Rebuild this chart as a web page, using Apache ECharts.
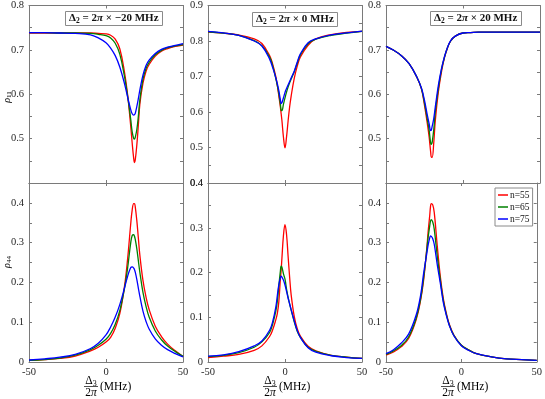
<!DOCTYPE html>
<html>
<head>
<meta charset="utf-8">
<script src="https://cdn.jsdelivr.net/npm/echarts@6/dist/echarts.min.js"></script>
<style>
html, body { margin: 0; padding: 0; background: #fff; }
#chart { width: 545px; height: 399px; }
</style>
</head>
<body>
<div id="chart"></div>
<script>
// series names (legend) and detuning in the panel titles
var names = ['n=55', 'n=65', 'n=75'];
var detunings = ['\u221220', '0', '20'];
var xTicks = [-50, 0, 50];

// left column: Delta2 = 2pi x -20 MHz
var xA = [-50,-40,-30,-20,-10,-5,0,3,6,9,12,14,16,17,18,18.5,19,20,21,22,24,26,28,32,36,40,45,50];
var rho11A_55 = [0.738,0.738,0.738,0.738,0.738,0.737,0.736,0.733,0.724,0.702,0.650,0.600,0.530,0.490,0.455,0.446,0.452,0.485,0.530,0.578,0.625,0.652,0.667,0.686,0.697,0.703,0.708,0.711];
var rho11A_65 = [0.739,0.739,0.738,0.738,0.737,0.735,0.732,0.727,0.715,0.690,0.640,0.597,0.545,0.515,0.500,0.499,0.503,0.520,0.550,0.588,0.634,0.658,0.672,0.689,0.699,0.705,0.709,0.712];
var rho11A_75 = [0.739,0.739,0.738,0.737,0.734,0.727,0.716,0.704,0.687,0.661,0.624,0.594,0.566,0.556,0.553,0.554,0.557,0.572,0.590,0.610,0.643,0.665,0.677,0.692,0.701,0.706,0.710,0.714];
var rho44A_55 = [0.004,0.006,0.009,0.015,0.028,0.037,0.050,0.062,0.085,0.122,0.190,0.258,0.345,0.382,0.398,0.398,0.390,0.356,0.312,0.268,0.205,0.163,0.132,0.090,0.064,0.045,0.028,0.014];
var rho44A_65 = [0.004,0.006,0.010,0.017,0.031,0.042,0.057,0.072,0.095,0.130,0.185,0.235,0.298,0.318,0.320,0.316,0.308,0.285,0.255,0.225,0.175,0.140,0.113,0.078,0.056,0.040,0.026,0.014];
var rho44A_75 = [0.005,0.008,0.012,0.019,0.034,0.047,0.068,0.088,0.113,0.145,0.186,0.215,0.237,0.239,0.236,0.232,0.226,0.208,0.186,0.165,0.128,0.102,0.083,0.058,0.042,0.031,0.021,0.013];

// middle column: Delta2 = 2pi x 0 MHz
var xB = [-50,-40,-30,-20,-15,-10,-8,-6,-5,-4,-3,-2.5,-2,-1,0,1,2,3,4,6,8,10,15,20,30,40,50];
var rho11B_55 = [0.825,0.822,0.817,0.806,0.793,0.759,0.735,0.700,0.675,0.645,0.614,0.595,0.576,0.529,0.499,0.530,0.574,0.614,0.645,0.695,0.730,0.755,0.788,0.806,0.818,0.824,0.827];
var rho11B_65 = [0.826,0.822,0.816,0.801,0.787,0.755,0.730,0.695,0.675,0.652,0.622,0.605,0.604,0.622,0.640,0.656,0.670,0.682,0.693,0.713,0.738,0.761,0.792,0.805,0.816,0.822,0.827];
var rho11B_75 = [0.827,0.823,0.816,0.800,0.786,0.749,0.725,0.697,0.680,0.660,0.634,0.624,0.626,0.640,0.655,0.666,0.676,0.686,0.696,0.715,0.741,0.764,0.795,0.806,0.817,0.823,0.828];
var rho44B_55 = [0.010,0.013,0.017,0.026,0.036,0.057,0.072,0.094,0.108,0.135,0.185,0.205,0.232,0.283,0.307,0.285,0.237,0.190,0.150,0.102,0.074,0.058,0.035,0.025,0.015,0.011,0.008];
var rho44B_65 = [0.012,0.015,0.021,0.033,0.045,0.066,0.085,0.113,0.135,0.170,0.203,0.214,0.212,0.197,0.185,0.163,0.145,0.130,0.116,0.090,0.068,0.055,0.033,0.024,0.015,0.011,0.008];
var rho44B_75 = [0.013,0.016,0.023,0.036,0.047,0.071,0.090,0.122,0.148,0.173,0.188,0.192,0.190,0.183,0.172,0.158,0.143,0.130,0.117,0.092,0.070,0.055,0.032,0.022,0.014,0.010,0.008];

// right column: Delta2 = 2pi x 20 MHz
var xC = [-50,-45,-40,-35,-30,-27,-25,-23,-22,-21,-20.5,-20,-19,-18,-16,-14,-12,-10,-8,-5,0,5,10,20,30,40,50];
var rho11C_55 = [0.708,0.699,0.687,0.669,0.639,0.612,0.575,0.530,0.504,0.470,0.458,0.458,0.490,0.540,0.605,0.650,0.683,0.705,0.720,0.731,0.738,0.739,0.740,0.740,0.740,0.740,0.740];
var rho11C_65 = [0.708,0.699,0.687,0.669,0.639,0.613,0.580,0.540,0.519,0.490,0.487,0.492,0.520,0.560,0.613,0.655,0.684,0.706,0.720,0.731,0.738,0.739,0.740,0.740,0.740,0.740,0.740];
var rho11C_75 = [0.708,0.699,0.687,0.669,0.639,0.614,0.586,0.550,0.534,0.518,0.520,0.528,0.545,0.571,0.620,0.657,0.685,0.706,0.721,0.731,0.738,0.739,0.740,0.740,0.740,0.740,0.740];
var rho44C_55 = [0.017,0.025,0.038,0.059,0.106,0.156,0.207,0.283,0.330,0.368,0.390,0.398,0.395,0.376,0.292,0.216,0.160,0.123,0.095,0.068,0.042,0.030,0.021,0.013,0.008,0.006,0.004];
var rho44C_65 = [0.019,0.028,0.041,0.063,0.110,0.160,0.213,0.280,0.315,0.342,0.354,0.358,0.352,0.334,0.266,0.207,0.155,0.120,0.093,0.067,0.042,0.030,0.021,0.013,0.008,0.006,0.004];
var rho44C_75 = [0.021,0.031,0.047,0.070,0.118,0.169,0.224,0.271,0.295,0.312,0.317,0.316,0.310,0.296,0.245,0.199,0.150,0.118,0.092,0.066,0.041,0.029,0.021,0.013,0.008,0.006,0.004];

var colors = ['#ff0000', '#008000', '#0000ff'];
var serif = 'Liberation Serif, DejaVu Serif, serif';
var axisColor = '#7a7a7a';

var cols = [29, 208, 386];
var colW = 154;
var rows = [{ top: 5, height: 178 }, { top: 183, height: 179 }];

// one entry per panel, row by row
var panels = [
  { x: xA, ys: [rho11A_55, rho11A_65, rho11A_75], min: 0.4, max: 0.8, hideMin: true },
  { x: xB, ys: [rho11B_55, rho11B_65, rho11B_75], min: 0.4, max: 0.9, hideMin: false },
  { x: xC, ys: [rho11C_55, rho11C_65, rho11C_75], min: 0.4, max: 0.8, hideMin: true },
  { x: xA, ys: [rho44A_55, rho44A_65, rho44A_75], min: 0, max: 0.45, hideMin: false },
  { x: xB, ys: [rho44B_55, rho44B_65, rho44B_75], min: 0, max: 0.4, hideMin: false },
  { x: xC, ys: [rho44C_55, rho44C_65, rho44C_75], min: 0, max: 0.45, hideMin: false }
];

function yLabel(v) {
  var t = Math.round(v * 100);
  if (t % 10 !== 0) return '';
  return t === 0 ? '0' : (t / 100).toFixed(1);
}

var grid = [], xAxis = [], yAxis = [], series = [];

panels.forEach(function (p, i) {
  var r = Math.floor(i / 3), c = i % 3;
  grid.push({ left: cols[c], top: rows[r].top, width: colW, height: rows[r].height });

  var xBase = {
    gridIndex: i, type: 'value', min: -50, max: 50, interval: 50,
    axisLine: { onZero: false, lineStyle: { color: axisColor, width: 1 } },
    axisTick: { inside: true, length: 3, lineStyle: { color: axisColor } },
    splitLine: { show: false }
  };
  xAxis.push(Object.assign({}, xBase, {
    position: 'bottom',
    axisLabel: { show: r === 1, margin: 5, color: '#262626', fontFamily: serif, fontSize: 10.5,
      formatter: function (v) { return xTicks.indexOf(v) >= 0 ? String(v) : ''; } }
  }));
  xAxis.push(Object.assign({}, xBase, { position: 'top', axisLabel: { show: false } }));

  var yBase = {
    gridIndex: i, type: 'value', min: p.min, max: p.max, interval: 0.05,
    axisLine: { onZero: false, lineStyle: { color: axisColor, width: 1 } },
    axisTick: { inside: true, length: 3, lineStyle: { color: axisColor } },
    splitLine: { show: false }
  };
  yAxis.push(Object.assign({}, yBase, {
    position: 'left',
    axisLabel: { margin: 5, color: '#262626', fontFamily: serif, fontSize: 10.5,
      showMinLabel: !p.hideMin, showMaxLabel: true, formatter: yLabel }
  }));
  yAxis.push(Object.assign({}, yBase, { position: 'right', axisLabel: { show: false } }));

  p.ys.forEach(function (ys, k) {
    series.push({
      name: names[k], type: 'line', xAxisIndex: 2 * i, yAxisIndex: 2 * i,
      data: p.x.map(function (x, j) { return [x, ys[j]]; }),
      symbol: 'none', smooth: 0.4, z: 3 + k,
      lineStyle: { color: colors[k], width: 1.3 },
      itemStyle: { color: colors[k] }
    });
  });
});

// boxed panel titles
var titleBoxes = [{ left: 65, top: 10 }, { left: 252, top: 11 }, { left: 430, top: 10 }];
var titleRich = {
  t: { fontFamily: serif, fontSize: 11, color: '#111' },
  i: { fontFamily: serif, fontSize: 11, fontStyle: 'italic', color: '#111' },
  s: { fontFamily: serif, fontSize: 7.5, color: '#111', verticalAlign: 'bottom', padding: [5, 0, 0, 0] }
};
var title = titleBoxes.map(function (b, k) {
  return {
    left: b.left, top: b.top, padding: [2, 4, 1, 4],
    borderColor: '#8a8a8a', borderWidth: 1, backgroundColor: '#fff',
    text: '{t|\u0394}{s|2}{t| = 2}{i|\u03c0}{t| \u00d7 ' + detunings[k] + ' MHz}',
    textStyle: { rich: titleRich }
  };
});

// axis names drawn as text
var nameRich = {
  n: { fontFamily: serif, fontSize: 11.5, color: '#111' },
  i: { fontFamily: serif, fontSize: 11.5, fontStyle: 'italic', color: '#111' },
  s: { fontFamily: serif, fontSize: 8, color: '#111', padding: [5, 0, 0, 0] }
};
var yNameRich = {
  i: { fontFamily: serif, fontSize: 10, fontStyle: 'italic', color: '#111' },
  s: { fontFamily: serif, fontSize: 7, color: '#111', padding: [4, 0, 0, 0] }
};
var graphic = [];
cols.forEach(function (left) {
  var off = left - 29;
  graphic.push({ type: 'text', x: 91 + off, y: 381, z: 10,
    style: { text: '{n|\u0394}{s|3}', rich: nameRich, align: 'center', verticalAlign: 'middle' } });
  graphic.push({ type: 'line', z: 10,
    shape: { x1: 84 + off, y1: 386.5, x2: 98 + off, y2: 386.5 },
    style: { stroke: '#222', lineWidth: 0.8 } });
  graphic.push({ type: 'text', x: 91 + off, y: 392.5, z: 10,
    style: { text: '{n|2}{i|\u03c0}', rich: nameRich, align: 'center', verticalAlign: 'middle' } });
  graphic.push({ type: 'text', x: 100 + off, y: 386.5, z: 10,
    style: { text: '{n|(MHz)}', rich: nameRich, align: 'left', verticalAlign: 'middle' } });
});
graphic.push({ type: 'text', x: 7, y: 97, rotation: Math.PI / 2, z: 10,
  style: { text: '{i|\u03c1}{s|11}', rich: yNameRich, align: 'center', verticalAlign: 'middle' } });
graphic.push({ type: 'text', x: 7, y: 262, rotation: Math.PI / 2, z: 10,
  style: { text: '{i|\u03c1}{s|44}', rich: yNameRich, align: 'center', verticalAlign: 'middle' } });

var chart = echarts.init(document.getElementById('chart'));
chart.setOption({
  animation: false,
  backgroundColor: '#fff',
  title: title,
  legend: {
    data: names, orient: 'vertical', left: 495, top: 188,
    padding: [2, 3, 2, 3], itemGap: 2, itemWidth: 10, itemHeight: 1.5, icon: 'rect',
    borderColor: '#8a8a8a', borderWidth: 1, backgroundColor: '#fff',
    textStyle: { fontFamily: serif, fontSize: 9.5, color: '#111', lineHeight: 9, padding: [0, 0, 0, -3] }
  },
  grid: grid,
  xAxis: xAxis,
  yAxis: yAxis,
  series: series,
  graphic: graphic
});
</script>
</body>
</html>
